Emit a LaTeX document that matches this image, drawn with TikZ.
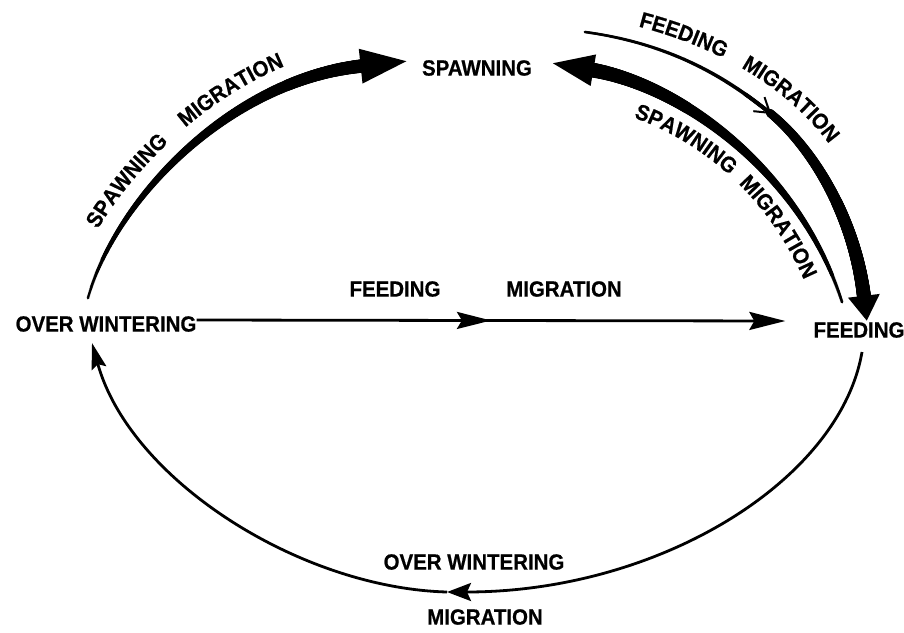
\documentclass[tikz,border=0pt]{standalone}
\usepackage{fontspec}
\setmainfont{Liberation Sans}[FakeStretch=0.93,BoldFeatures={FakeBold=0.6}]
\usetikzlibrary{arrows.meta,decorations.markings,decorations.text}
\newcommand\mylbl{\bfseries\fontsize{22}{24}\selectfont}
\tikzset{
  lbl/.style={font=\mylbl, inner sep=0pt},
  thinline/.style={line width=2.8pt},
  taper/.style 2 args={postaction={decorate,decoration={markings,
    mark=between positions 0 and 1 step 0.003 with {%
      \pgfmathsetmacro\taperr{#1+(#2-#1)*min(1,\pgfkeysvalueof{/pgf/decoration/mark info/sequence number}*0.003)}%
      \fill (0pt,0pt) circle[radius=\taperr pt];}}}},
  bighead/.style 2 args={postaction={decorate,decoration={markings,
    mark=at position 0.999 with {\fill (-1pt,-#2pt) -- (#1pt,0pt) -- (-1pt,#2pt) -- cycle;}}}},
  barbhead/.style={postaction={decorate,decoration={markings,
    mark=at position 0.999 with {\draw[line width=2pt] (-14pt,-9pt) -- (0pt,0pt) -- (-14pt,9pt);}}}},
  curvelbl/.style 2 args={decorate,decoration={text along path, text={|\mylbl|#1}, text align={left indent=#2}}}
}
\begin{document}
\begin{tikzpicture}[x=1pt,y=-1pt]
\fill[white] (0,0) rectangle (904,632);
\useasboundingbox (0,0) rectangle (904,632);

% main labels
\node[lbl] (sp) at (477,68) {SPAWNING};
\node[lbl] (ow) at (106,324) {OVER WINTERING};
\node[lbl] (fd) at (859,330) {FEEDING};

% free ends
\coordinate (la) at (88,298);
\coordinate (lh) at (362,66);
\coordinate (ra) at (842,302);
\coordinate (rh) at (592,70);
\coordinate (fs) at (585,32);
\coordinate (fm) at (770,113);
\coordinate (fe) at (864,297);
\coordinate (bs) at (862,352);
\coordinate (bm) at (447,592);
\coordinate (be) at (92,343);

% left thick spawning migration
\path[taper={1.4}{6.8}, bighead={45}{17.5}] (la) .. controls (115,200) and (230,80) .. (lh);
\path[curvelbl={SPAWNING}{70pt}] (69,293) .. controls (97,194) and (222,61) .. (362,46);
\path[curvelbl={MIGRATION}{205pt}] (69,293) .. controls (97,194) and (222,61) .. (362,46);

% right thick spawning migration
\path[taper={1.5}{7.4}, bighead={40}{16}] (ra) .. controls (800,170) and (680,85) .. (rh);
\path[curvelbl={SPAWNING}{35pt}] (600,108) .. controls (680,125) and (770,185) .. (812,300);
\path[curvelbl={MIGRATION}{160pt}] (600,108) .. controls (680,125) and (770,185) .. (812,300);

% feeding migration (top right)
\path[taper={1.4}{2.1}, barbhead] (fs) .. controls (680,45) and (735,85) .. (fm);
\path[taper={4.2}{7}, bighead={24}{16}] (fm) .. controls (815,150) and (855,220) .. (fe);
\path[curvelbl={FEEDING}{19pt}] (620,22) .. controls (700,40) and (790,80) .. (840,160);
\path[curvelbl={MIGRATION}{130pt}] (620,22) .. controls (700,40) and (790,80) .. (840,160);

% horizontal feeding migration
\draw[thinline,
  postaction={decorate,decoration={markings,mark=at position 0.5 with {\arrow{Stealth[length=34pt,width=17pt,inset=5pt]}}}},
  -{Stealth[length=36pt,width=18pt,inset=5pt]}]
  ([yshift=4pt]ow.east) -- ([xshift=-28pt,yshift=9pt]fd.west);
\node[lbl] (fl) at (395,289) {FEEDING};
\node[lbl] (ml) at (564,289) {MIGRATION};

% bottom over wintering migration
\draw[thinline, -{Stealth[length=24pt,width=18pt,inset=4pt]}] (bs) .. controls (840,480) and (660,592) .. (bm);
\draw[thinline, -{Stealth[length=26pt,width=15pt,inset=4pt]}] (bm) .. controls (300,588) and (130,480) .. (be);
\node[lbl] (owl) at (474,562) {OVER WINTERING};
\node[lbl] (mgl) at (485,617) {MIGRATION};
\end{tikzpicture}
\end{document}
